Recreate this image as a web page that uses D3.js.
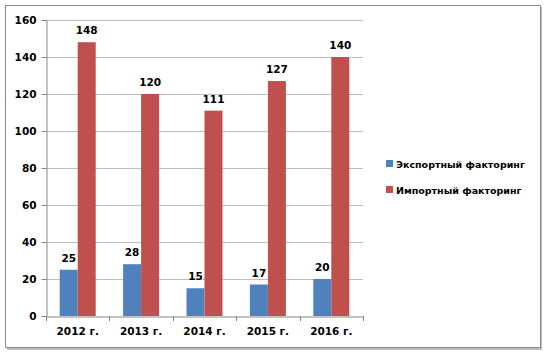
<!DOCTYPE html>
<html><head><meta charset="utf-8">
<script src="https://cdn.jsdelivr.net/npm/d3@7"></script>
<style>body{margin:0;background:#fff}svg{display:block}</style>
</head><body>
<script>
const categories = ["2012 г.", "2013 г.", "2014 г.", "2015 г.", "2016 г."];
const seriesNames = ["Экспортный факторинг", "Импортный факторинг"];
const exportValues = [25, 28, 15, 17, 20];
const importValues = [148, 120, 111, 127, 140];
const yTicks = [0, 20, 40, 60, 80, 100, 120, 140, 160];
const colors = ["#4F81BD", "#C0504D"];

(function () {
const W = 546, H = 355;
const svg = d3.select("body").append("svg").attr("width", W).attr("height", H);
const font = "'DejaVu Sans', Verdana, sans-serif";

// outer frame with shadow
svg.append("rect").attr("x", 7).attr("y", 7).attr("width", 535).attr("height", 343).attr("fill", "#bdbdbd");
svg.append("rect").attr("x", 5.5).attr("y", 5.5).attr("width", 535).attr("height", 342)
  .attr("fill", "#fff").attr("stroke", "#8c8c8c").attr("stroke-width", 1);

const mLeft = 46, mRight = 363, mTop = 20, mBottom = 316;
const x = d3.scaleBand().domain(categories).range([mLeft, mRight]);
const y = d3.scaleLinear().domain([0, 160]).range([mBottom, mTop]);

// gridlines
svg.append("g").selectAll("line").data(yTicks.filter(d => d > 0)).join("line")
  .attr("x1", mLeft).attr("x2", mRight)
  .attr("y1", d => Math.round(y(d)) + 0.5).attr("y2", d => Math.round(y(d)) + 0.5)
  .attr("stroke", "#bfbfbf").attr("stroke-width", 1);

// y axis
const yAxis = d3.axisLeft(y).tickValues(yTicks).tickSize(5).tickPadding(5);
const gy = svg.append("g").attr("transform", `translate(${mLeft + 0.5},0)`).call(yAxis);
gy.select(".domain").attr("stroke", "#868686");
gy.selectAll(".tick line").attr("stroke", "#868686");
gy.selectAll("text").attr("font-family", font).attr("font-weight", "bold").attr("font-size", 10.5).attr("fill", "#000");

// bars
const bw = 18;
const series = [exportValues, importValues];
series.forEach((vals, si) => {
  const g = svg.append("g");
  g.selectAll("rect").data(vals).join("rect")
    .attr("x", (d, i) => x(categories[i]) + x.bandwidth() / 2 - bw + si * bw)
    .attr("y", d => y(d))
    .attr("width", bw)
    .attr("height", d => y(0) - y(d))
    .attr("fill", colors[si]);
  g.selectAll("text").data(vals).join("text")
    .attr("x", (d, i) => x(categories[i]) + x.bandwidth() / 2 - bw / 2 + si * bw)
    .attr("y", d => y(d) - 8)
    .attr("text-anchor", "middle")
    .attr("font-family", font).attr("font-weight", "bold").attr("font-size", 10.5)
    .text(d => d);
});

// x axis
const xAxis = d3.axisBottom(x).tickSize(0).tickPadding(11);
const gx = svg.append("g").attr("transform", `translate(0,${mBottom + 0.5})`).call(xAxis);
gx.select(".domain").attr("stroke", "#868686");
gx.selectAll("text").attr("font-family", font).attr("font-weight", "bold").attr("font-size", 10.5).attr("fill", "#000");
// category separator ticks
svg.append("g").selectAll("line").data(d3.range(categories.length + 1)).join("line")
  .attr("x1", i => Math.round(mLeft + i * x.step()) + 0.5).attr("x2", i => Math.round(mLeft + i * x.step()) + 0.5)
  .attr("y1", mBottom).attr("y2", mBottom + 5).attr("stroke", "#868686");

// legend
const lg = svg.append("g").attr("transform", "translate(386,160)");
seriesNames.forEach((n, i) => {
  lg.append("rect").attr("x", 0).attr("y", i * 26).attr("width", 7).attr("height", 7).attr("fill", colors[i]);
  lg.append("text").attr("x", 10).attr("y", i * 26 + 7.5)
    .attr("font-family", font).attr("font-weight", "bold").attr("font-size", 9.5).text(n);
});
})();
</script>
</body></html>
